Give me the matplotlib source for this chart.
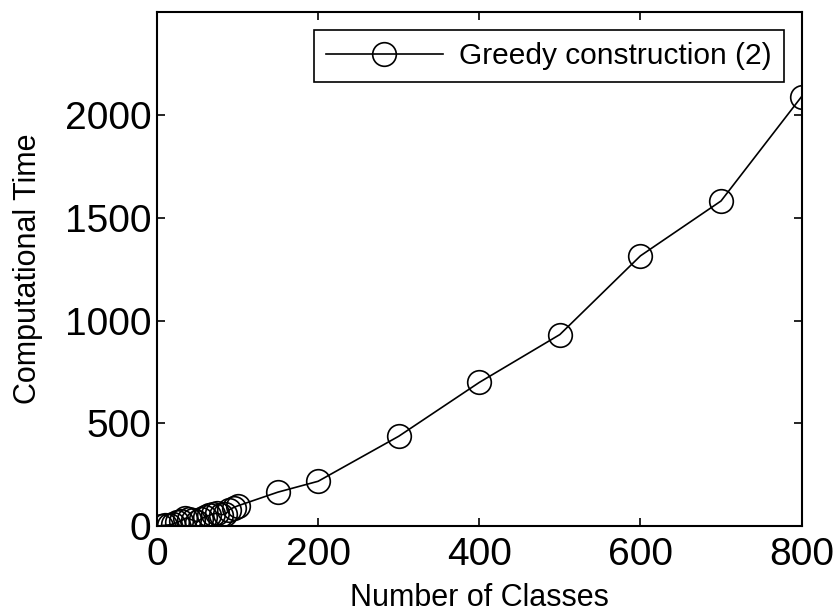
import matplotlib
matplotlib.use('Agg')
import matplotlib.pyplot as plt

plt.rcParams['font.family'] = ['Liberation Sans', 'DejaVu Sans']

# number of classes vs computational time
n_classes = [5, 10, 15, 20, 25, 30, 35, 40, 45, 50, 55, 60, 65, 70, 75, 80, 85, 90, 95, 100,
             150, 200, 300, 400, 500, 600, 700, 800]
comp_time = [2, 4, 6, 10, 18, 25, 38, 35, 28, 20, 35, 45, 52, 60, 62, 55, 58, 80, 90, 98,
             165, 218, 437, 699, 932, 1315, 1582, 2090]

fig = plt.figure(figsize=(8.35, 6.16), dpi=100)
ax = fig.add_axes([0.188, 0.146, 0.772, 0.834])

ax.plot(n_classes, comp_time, color='black', linewidth=1.2, marker='o',
        markersize=17, markerfacecolor='none', markeredgecolor='black',
        markeredgewidth=1.2, label='Greedy construction (2)')

ax.set_xlim(0, 800)
ax.set_ylim(0, 2500)
ax.set_xticks([0, 200, 400, 600, 800])
ax.set_yticks([0, 500, 1000, 1500, 2000])
ax.tick_params(direction='in', top=True, right=True, labelsize=28, length=6, width=1.2)
ax.tick_params(axis='x', pad=8)
ax.tick_params(axis='y', pad=4)
for s in ax.spines.values():
    s.set_linewidth(1.5)

ax.set_xlabel('Number of Classes', fontsize=22, labelpad=7)
ax.set_ylabel('Computational Time', fontsize=22, labelpad=16)

leg = ax.legend(loc='upper right', fontsize=21.5, fancybox=False, edgecolor='black',
                framealpha=1, handlelength=3.9, handletextpad=0.55,
                borderpad=0.4, borderaxespad=0.6)
leg.get_frame().set_linewidth(1.2)

fig.savefig('out.png', dpi=100)
